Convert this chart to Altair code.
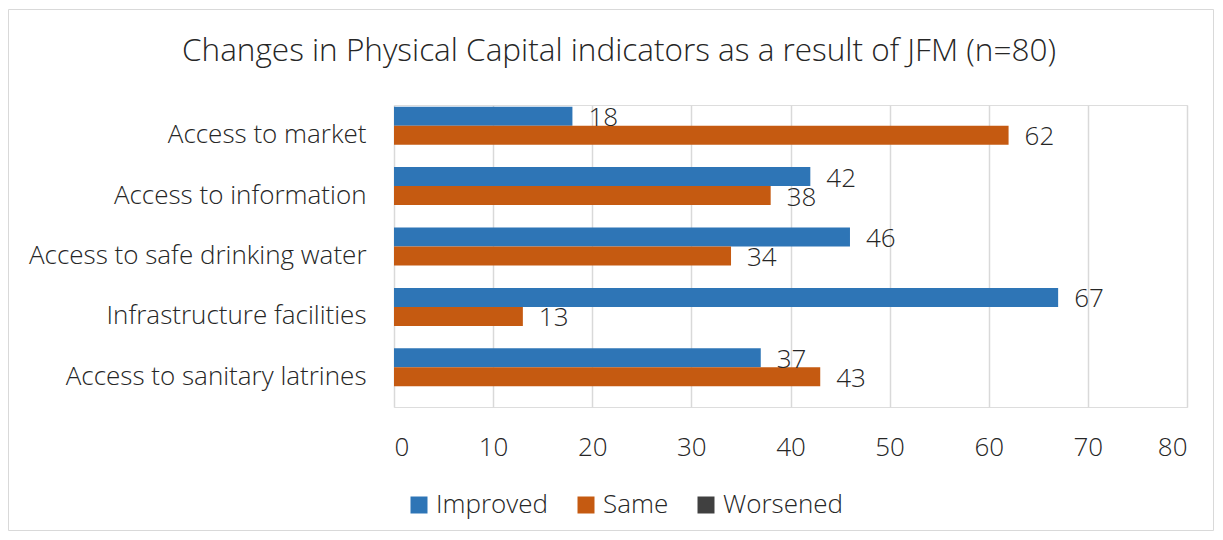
import altair as alt
import pandas as pd

categories = [
    "Access to market",
    "Access to information",
    "Access to safe drinking water",
    "Infrastructure facilities",
    "Access to sanitary latrines",
]
series = ["Improved", "Same", "Worsened"]
improved = [18, 42, 46, 67, 37]
same = [62, 38, 34, 13, 43]
colors = ["#2E75B6", "#C55A11", "#404040"]
x_ticks = [0, 10, 20, 30, 40, 50, 60, 70, 80]
title_text = "Changes in Physical Capital indicators as a result of JFM (n=80)"

rows = []
for c, i, s in zip(categories, improved, same):
    rows.append({"category": c, "series": "Improved", "value": i})
    rows.append({"category": c, "series": "Same", "value": s})
df = pd.DataFrame(rows)

FONT = "Open Sans"
FW = 300
FS = 26
TXT = "#262626"
W, H = 793, 302
PL, PT, PR, PB = 386, 97, 28, 125

y_enc = alt.Y(
    "category:N",
    sort=categories,
    scale=alt.Scale(paddingInner=0.056, paddingOuter=0.028),
    axis=alt.Axis(title=None, ticks=False, domain=False, labelFontSize=FS,
                  labelFont=FONT, labelFontWeight=FW, labelColor=TXT, labelPadding=28,
                  labelLimit=400),
)
yoff = alt.YOffset("series:N", scale=alt.Scale(domain=series, paddingInner=0, paddingOuter=0))
x_enc = alt.X(
    "value:Q",
    scale=alt.Scale(domain=[0, 80], nice=False),
    axis=alt.Axis(title=None, values=x_ticks, ticks=False, domain=False,
                  labelFontSize=FS, labelFont=FONT, labelFontWeight=FW, labelColor=TXT,
                  labelPadding=27, gridColor="#d9d9d9", gridWidth=1.5),
)

bars = alt.Chart(df).mark_bar().encode(
    y=y_enc,
    yOffset=yoff,
    x=x_enc,
    color=alt.Color(
        "series:N",
        scale=alt.Scale(domain=series, range=colors),
        legend=alt.Legend(title=None, orient="none", direction="horizontal",
                          legendX=12, legendY=387, symbolType="square",
                          symbolSize=289, symbolStrokeWidth=0,
                          labelFontSize=FS, labelFont=FONT, labelFontWeight=FW,
                          labelColor=TXT, columnPadding=24, symbolOffset=0,
                          labelOffset=4),
    ),
)

labels = alt.Chart(df).mark_text(
    align="left", baseline="middle", dx=16, dy=2, fontSize=FS, font=FONT,
    fontWeight=FW, color=TXT
).encode(
    y=alt.Y("category:N", sort=categories),
    yOffset=alt.YOffset("series:N", scale=alt.Scale(domain=series)),
    x="value:Q",
    text="value:Q",
)

title = alt.Chart(alt.Data(values=[{"t": title_text}])).mark_text(
    align="center", baseline="middle", fontSize=31.5, font=FONT, fontWeight=FW, color=TXT
).encode(
    text="t:N", x=alt.value(225), y=alt.value(-53),
)

frame = alt.Chart(alt.Data(values=[{}])).mark_rect(
    fillOpacity=0, stroke="#d9d9d9", strokeWidth=1
).encode(
    x=alt.value(-PL + 0.5), x2=alt.value(W + PR - 1.5),
    y=alt.value(-PT + 1.5), y2=alt.value(H + PB - 1.5),
)

chart = alt.layer(frame, bars, labels, title).properties(
    width=W,
    height=H,
    autosize=alt.AutoSizeParams(type="none"),
    padding={"left": PL, "top": PT, "right": PR, "bottom": PB},
).configure_view(stroke=None).configure(background="white")

chart.save("out.html", embed_options={"renderer": "svg", "actions": False})
